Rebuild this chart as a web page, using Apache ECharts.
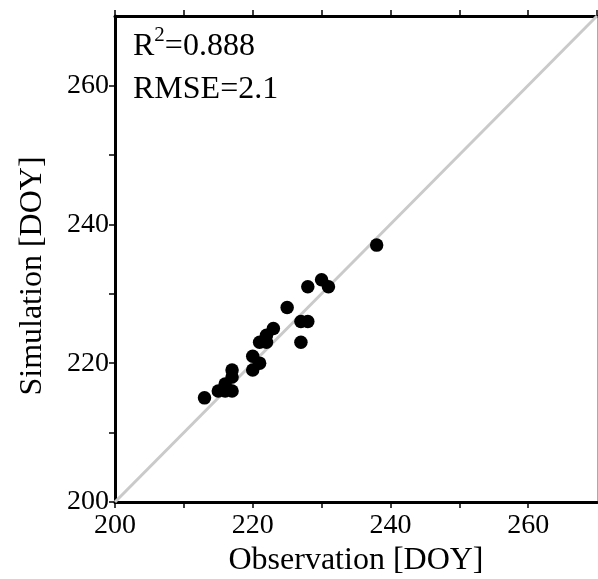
<!DOCTYPE html>
<html>
<head>
<meta charset="utf-8">
<script src="https://cdn.jsdelivr.net/npm/echarts@6/dist/echarts.min.js"></script>
<style>html,body{margin:0;padding:0;background:#fff}#c{width:598px;height:579px}</style>
</head>
<body>
<div id="c"></div>
<script>
// Data (Observation DOY, Simulation DOY)
var observed  = [238, 230, 231, 228, 225, 227, 228, 227, 223, 222, 222, 221, 220, 221, 220, 217, 217, 216, 216, 215, 217, 213];
var simulated = [237, 232, 231, 231, 228, 226, 226, 223, 225, 224, 223, 223, 221, 220, 219, 219, 218, 217, 216, 216, 216, 215];
var oneToOne = [200, 270];
var axisMin = 200, axisMax = 270, tickStep = 10;
var r2Text = '0.888';
var rmseText = '2.1';

var points = observed.map(function (x, i) { return [x, simulated[i]]; });
var diag = oneToOne.map(function (v) { return [v, v]; });

var FONT = 'Liberation Serif';
function lbl(v) { return (v % 20 === 0 && v < 270) ? String(v) : ''; }

var chart = echarts.init(document.getElementById('c'), null, { renderer: 'canvas' });
chart.setOption({
  backgroundColor: '#fff',
  animation: false,
  grid: { left: 115, right: 1, top: 16, bottom: 77, containLabel: false, outerBoundsMode: 'none' },
  xAxis: [{
    type: 'value', min: axisMin, max: axisMax, interval: tickStep, position: 'bottom',
    name: 'Observation [DOY]', nameLocation: 'middle', nameGap: 40,
    nameTextStyle: { fontFamily: FONT, fontSize: 32, color: '#000' },
    axisLine: { show: true, onZero: false, lineStyle: { color: '#000', width: 3 } },
    axisTick: { show: true, inside: false, length: 6, lineStyle: { color: '#000', width: 1.5 } },
    axisLabel: { formatter: lbl, fontFamily: FONT, fontSize: 28, color: '#000', margin: 10, showMaxLabel: false },
    splitLine: { show: false }
  }, {
    type: 'value', min: axisMin, max: axisMax, interval: tickStep, position: 'top',
    axisLine: { show: true, onZero: false, lineStyle: { color: '#000', width: 3 } },
    axisTick: { show: true, inside: false, length: 6, lineStyle: { color: '#000', width: 1.5 } },
    axisLabel: { show: false },
    splitLine: { show: false }
  }],
  yAxis: [{
    type: 'value', min: axisMin, max: axisMax, interval: tickStep, position: 'left',
    name: 'Simulation [DOY]', nameLocation: 'middle', nameGap: 66, nameRotate: 90,
    nameTextStyle: { fontFamily: FONT, fontSize: 32, color: '#000', padding: [0, 34, 0, 0] },
    axisLine: { show: true, onZero: false, lineStyle: { color: '#000', width: 3 } },
    axisTick: { show: true, inside: false, length: 6, lineStyle: { color: '#000', width: 1.5 } },
    axisLabel: { formatter: lbl, fontFamily: FONT, fontSize: 28, color: '#000', margin: 6, showMaxLabel: false },
    splitLine: { show: false }
  }, {
    type: 'value', min: axisMin, max: axisMax, interval: tickStep, position: 'right',
    axisLine: { show: true, onZero: false, lineStyle: { color: '#aaa', width: 1 } },
    axisTick: { show: false },
    axisLabel: { show: false },
    splitLine: { show: false }
  }],
  graphic: [{
    type: 'text', left: 133, top: 25, z: 10,
    style: {
      text: '{n|R}{s|2}{n|=' + r2Text + '}\n{n|RMSE=' + rmseText + '}',
      rich: {
        n: { fontFamily: FONT, fontSize: 32, fill: '#000', lineHeight: 43 },
        s: { fontFamily: FONT, fontSize: 21, fill: '#000', lineHeight: 43, verticalAlign: 'top', padding: [0, 0, 14, 0] }
      }
    }
  }],
  series: [{
    type: 'line', data: diag, xAxisIndex: 0, yAxisIndex: 0,
    symbol: 'none', lineStyle: { color: '#cacaca', width: 3 }, silent: true, z: 1
  }, {
    type: 'scatter', data: points, xAxisIndex: 0, yAxisIndex: 0,
    symbol: 'circle', symbolSize: 13.5, itemStyle: { color: '#000', opacity: 1 }, z: 3
  }]
});
</script>
</body>
</html>
